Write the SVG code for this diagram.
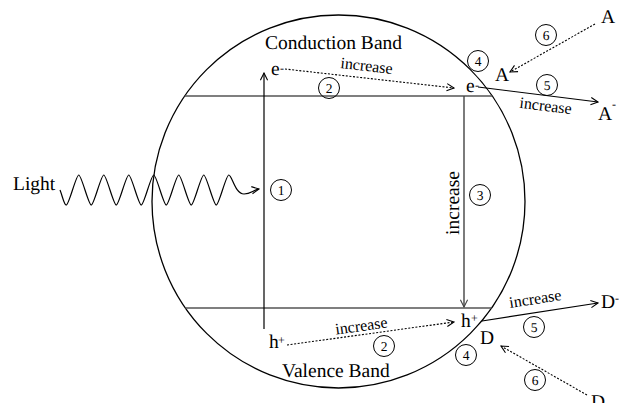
<svg xmlns="http://www.w3.org/2000/svg" width="619" height="403" viewBox="0 0 619 403" text-rendering="geometricPrecision">
<style>
.lbl{font-family:"Liberation Serif","Times New Roman",serif;font-size:19.5px;fill:#000}
.sm{font-family:"Liberation Serif","Times New Roman",serif;font-size:16px;fill:#000}
.sup{font-family:"Liberation Serif","Times New Roman",serif;font-size:12px;fill:#000}
.num{font-family:"Liberation Serif","Times New Roman",serif;font-size:13.5px;text-anchor:middle;fill:#000}
.nc{fill:none;stroke:#000;stroke-width:1}
.band{stroke:#555;stroke-width:1.6;fill:none}
.solid{stroke:#000;stroke-width:1.2;fill:none}
.dot{stroke:#000;stroke-width:1.1;fill:none;stroke-dasharray:2 1.6}
</style>
<defs>
<marker id="ah" viewBox="0 0 10 10" refX="9" refY="5" markerWidth="9" markerHeight="9" markerUnits="userSpaceOnUse" orient="auto">
<path d="M1,1 L9,5 L1,9" fill="none" stroke="#000" stroke-width="1.2"/>
</marker>
<marker id="ahg" viewBox="0 0 10 10" refX="9" refY="5" markerWidth="9" markerHeight="9" markerUnits="userSpaceOnUse" orient="auto">
<path d="M1,1 L9,5 L1,9" fill="none" stroke="#444" stroke-width="1.2"/>
</marker>
</defs>

<g id="particle">
<circle cx="338.5" cy="201.5" r="186.5" fill="none" stroke="#000" stroke-width="1.3"/>
</g>

<g id="bands">
<line class="band" x1="184.7" y1="96" x2="492.3" y2="96"/>
<line class="band" x1="185.4" y1="308" x2="491.6" y2="308"/>
<text class="lbl" x="265" y="49">Conduction Band</text>
<text class="lbl" x="282" y="377">Valence Band</text>
</g>

<g id="connectors">
<path class="solid" d="M60,190 C62.5,196 64,205 66.25,205 C69,205 76,175 78.75,175 C81.5,175 88.5,205 91.25,205 C94,205 101,175 103.75,175 C106.5,175 113.5,205 116.25,205 C119,205 126,175 128.75,175 C131.5,175 138.5,205 141.25,205 C144,205 151,175 153.75,175 C156.5,175 163.5,205 166.25,205 C169,205 176,175 178.75,175 C181.5,175 188.5,205 191.25,205 C194,205 201,175 203.75,175 C206.5,175 213.5,205 216.25,205 C219,205 226,175 228.75,175 C232,175 235,194 244,194 C251,194 253,190 259,189" marker-end="url(#ah)"/>
<line class="solid" x1="264" y1="329" x2="264" y2="73" marker-end="url(#ah)"/>
<line x1="464" y1="96" x2="464" y2="307" stroke="#444" stroke-width="1.4" marker-end="url(#ahg)"/>
<line class="dot" x1="285" y1="69" x2="454" y2="88" marker-end="url(#ah)"/>
<line class="dot" x1="287" y1="345" x2="454" y2="322" marker-end="url(#ah)"/>
<line class="solid" x1="478" y1="87" x2="598" y2="102" marker-end="url(#ah)"/>
<line class="solid" x1="482" y1="321" x2="598" y2="303" marker-end="url(#ah)"/>
<line class="dot" x1="595" y1="24" x2="510" y2="72" marker-end="url(#ah)"/>
<line class="dot" x1="587" y1="395" x2="501" y2="346" marker-end="url(#ah)"/>
</g>

<g id="labels">
<text class="lbl" x="13" y="190">Light</text>
<text class="lbl" x="271" y="75">e</text><text class="sup" x="280" y="72">-</text>
<text class="lbl" x="466" y="92">e</text><text class="sup" x="475" y="89">-</text>
<text class="lbl" x="269" y="348">h</text><text class="sup" x="278" y="344">+</text>
<text class="lbl" x="461" y="327">h</text><text class="sup" x="471" y="322">+</text>
<text class="lbl" x="495" y="81">A</text>
<text class="lbl" x="601" y="23">A</text>
<text class="lbl" x="598" y="120">A</text><text class="sup" x="612" y="108">-</text>
<text class="lbl" x="480" y="344">D</text>
<text class="lbl" x="601" y="308">D</text><text class="sup" x="615" y="302">-</text>
<text class="lbl" x="591" y="408">D</text>
<text class="sm" text-anchor="middle" transform="translate(366,71) rotate(6.4)">increase</text>
<text class="sm" text-anchor="middle" transform="translate(362,331) rotate(-7.9)">increase</text>
<text class="sm" text-anchor="middle" transform="translate(545,111) rotate(7.1)">increase</text>
<text class="sm" text-anchor="middle" transform="translate(536,304) rotate(-8.8)">increase</text>
<text class="lbl" text-anchor="middle" transform="translate(459,203) rotate(-90)">increase</text>
</g>

<g id="step1"><circle class="nc" cx="281" cy="190" r="10.5"/><text class="num" x="281" y="195">1</text></g>
<g id="step2a"><circle class="nc" cx="329" cy="88" r="10.5"/><text class="num" x="329" y="93">2</text></g>
<g id="step2b"><circle class="nc" cx="384" cy="346" r="10.5"/><text class="num" x="384" y="351">2</text></g>
<g id="step3"><circle class="nc" cx="480" cy="195" r="10.5"/><text class="num" x="480" y="200">3</text></g>
<g id="step4a"><circle class="nc" cx="478" cy="61" r="10.5"/><text class="num" x="478" y="66">4</text></g>
<g id="step4b"><circle class="nc" cx="466" cy="355" r="10.5"/><text class="num" x="466" y="360">4</text></g>
<g id="step5a"><circle class="nc" cx="547" cy="85" r="10.5"/><text class="num" x="547" y="90">5</text></g>
<g id="step5b"><circle class="nc" cx="534" cy="327" r="10.5"/><text class="num" x="534" y="332">5</text></g>
<g id="step6a"><circle class="nc" cx="546" cy="35" r="10.5"/><text class="num" x="546" y="40">6</text></g>
<g id="step6b"><circle class="nc" cx="535" cy="380" r="10.5"/><text class="num" x="535" y="385">6</text></g>
</svg>
